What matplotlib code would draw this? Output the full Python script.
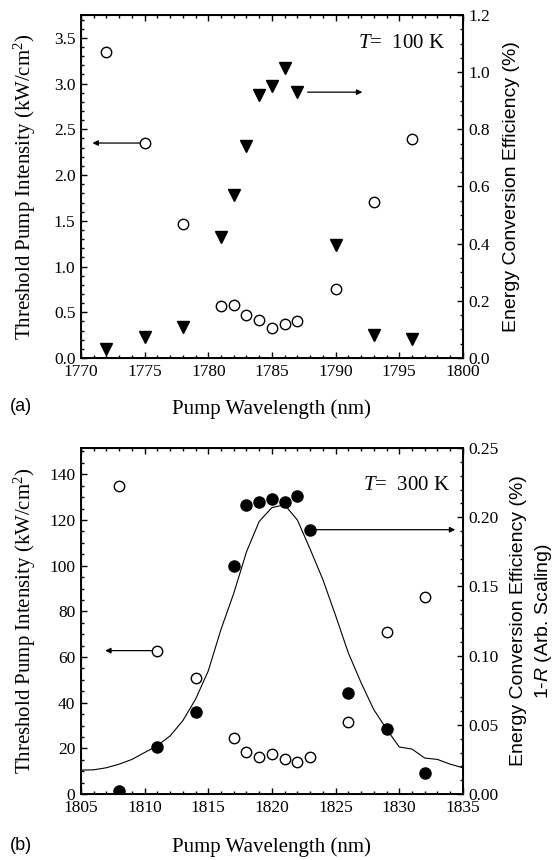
import matplotlib
matplotlib.use('Agg')
import matplotlib.pyplot as plt
from matplotlib.ticker import MultipleLocator

plt.rcParams['font.family'] = ['Liberation Serif', 'DejaVu Serif']
plt.rcParams['mathtext.fontset'] = 'custom'
plt.rcParams['mathtext.rm'] = 'Liberation Serif'
plt.rcParams['mathtext.it'] = 'Liberation Serif:italic'
plt.rcParams['mathtext.sf'] = 'Liberation Sans:italic'

# panel (a), T = 100 K
wl_a = [1772, 1775, 1778, 1781, 1782, 1783, 1784, 1785, 1786, 1787, 1790, 1793, 1796]
thr_a = [3.35, 2.35, 1.46, 0.57, 0.58, 0.47, 0.42, 0.33, 0.37, 0.40, 0.75, 1.71, 2.39]
eff_a = [0.032, 0.074, 0.11, 0.425, 0.57, 0.74, 0.92, 0.95, 1.015, 0.93, 0.395, 0.08, 0.066]

# panel (b), T = 300 K
wl_b = [1808, 1811, 1814, 1817, 1818, 1819, 1820, 1821, 1822, 1823, 1826, 1829, 1832]
thr_b = [134.7, 62.8, 50.7, 24.4, 18.4, 16.4, 17.4, 15.2, 14.2, 16.4, 31.5, 70.8, 86.4]
eff_b = [0.002, 0.034, 0.059, 0.165, 0.209, 0.211, 0.213, 0.211, 0.215, 0.191, 0.073, 0.047, 0.015]

# 1-R curve (arb.), on the right axis scale
wl_r = [1805, 1806, 1807, 1808, 1809, 1810, 1811, 1812, 1813, 1814, 1815, 1816, 1817,
        1818, 1819, 1820, 1821, 1822, 1823, 1824, 1825, 1826, 1827, 1828, 1829, 1830,
        1831, 1832, 1833, 1834, 1835]
r_b = [0.0173, 0.0175, 0.019, 0.0216, 0.025, 0.030, 0.035, 0.042, 0.053, 0.0685, 0.089,
       0.119, 0.145, 0.175, 0.197, 0.207, 0.209, 0.198, 0.177, 0.155, 0.129, 0.102, 0.0805,
       0.061, 0.047, 0.034, 0.0325, 0.026, 0.025, 0.0216, 0.019]

fig = plt.figure(figsize=(5.6, 8.6), dpi=100)

def style(ax, ax2):
    ax.tick_params(which='both', direction='in', top=True, right=False, labelsize=12.5, pad=4)
    ax.tick_params(which='major', length=4.5, width=1)
    ax.tick_params(which='minor', length=2.5, width=1)
    ax2.tick_params(which='both', direction='in', right=True, labelsize=12.5, pad=4)
    ax2.tick_params(which='major', length=4.5, width=1)
    ax2.tick_params(which='minor', length=2.5, width=1)
    for s in ax.spines.values():
        s.set_linewidth(1.4)

def arrow(ax, x0, x1, y):
    ax.annotate('', xy=(x1, y), xytext=(x0, y),
                arrowprops=dict(arrowstyle='-|>', color='k', lw=0.9, mutation_scale=8,
                                shrinkA=0, shrinkB=0))

# ---- (a)
ax = fig.add_axes([0.1446, 0.5837, 0.682, 0.3989])
ax2 = ax.twinx()
ax.plot(wl_a, thr_a, 'o', mfc='white', mec='k', mew=1, ms=7.5)
ax2.plot(wl_a, eff_a, 'v', color='k', ms=9)
ax.set_xlim(1770, 1800)
ax.set_ylim(0, 3.75)
ax2.set_ylim(0, 1.2)
ax.xaxis.set_major_locator(MultipleLocator(5))
ax.xaxis.set_minor_locator(MultipleLocator(1))
ax.yaxis.set_major_locator(MultipleLocator(0.5))
ax.yaxis.set_minor_locator(MultipleLocator(0.1))
ax2.yaxis.set_major_locator(MultipleLocator(0.2))
ax2.yaxis.set_minor_locator(MultipleLocator(0.05))
ax.set_yticks([0, 0.5, 1, 1.5, 2, 2.5, 3, 3.5])
ax.set_yticklabels(['0.0', '0.5', '1.0', '1.5', '2.0', '2.5', '3.0', '3.5'])
style(ax, ax2)
ax.set_xlabel('Pump Wavelength (nm)', fontsize=15)
ax.xaxis.set_label_coords(0.5, -0.12)
ax.set_ylabel('Threshold Pump Intensity (kW/cm$^2$)', fontsize=15)
ax.yaxis.set_label_coords(-0.112, 0.5)
ax2.set_ylabel('Energy Conversion Efficiency (%)', fontsize=14, family='Liberation Sans')
ax2.yaxis.set_label_coords(1.105, 0.5)
ax.text(0.955, 0.918, '$T$=  100 K', transform=ax.transAxes, ha='right', va='center', fontsize=15)
arrow(ax, 1774.6, 1770.9, 2.35)
arrow(ax2, 1787.8, 1792.1, 0.93)
fig.text(0.018, 0.527, '(a)', family='Liberation Sans', fontsize=13, va='center')

# ---- (b)
bx = fig.add_axes([0.1446, 0.0767, 0.682, 0.4023])
bx2 = bx.twinx()
bx2.plot(wl_r, r_b, '-', color='k', lw=0.8)
bx.plot(wl_b, thr_b, 'o', mfc='white', mec='k', mew=1, ms=7.5)
bx2.plot(wl_b, eff_b, 'o', color='k', ms=8)
bx.set_xlim(1805, 1835)
bx.set_ylim(0, 151.5)
bx2.set_ylim(0, 0.25)
bx.xaxis.set_major_locator(MultipleLocator(5))
bx.xaxis.set_minor_locator(MultipleLocator(1))
bx.yaxis.set_major_locator(MultipleLocator(20))
bx.yaxis.set_minor_locator(MultipleLocator(5))
bx2.yaxis.set_major_locator(MultipleLocator(0.05))
bx2.yaxis.set_minor_locator(MultipleLocator(0.01))
bx2.set_yticks([0, 0.05, 0.1, 0.15, 0.2, 0.25])
bx2.set_yticklabels(['0.00', '0.05', '0.10', '0.15', '0.20', '0.25'])
style(bx, bx2)
bx.set_xlabel('Pump Wavelength (nm)', fontsize=15)
bx.xaxis.set_label_coords(0.5, -0.125)
bx.set_ylabel('Threshold Pump Intensity (kW/cm$^2$)', fontsize=15)
bx.yaxis.set_label_coords(-0.112, 0.5)
bx2.set_ylabel('Energy Conversion Efficiency (%)\n1-$\\mathsf{R}$ (Arb. Scaling)', fontsize=14,
               family='Liberation Sans', multialignment='center', linespacing=1.4)
bx2.yaxis.set_label_coords(1.123, 0.5)
bx.text(0.966, 0.893, '$T$=  300 K', transform=bx.transAxes, ha='right', va='center', fontsize=15)
arrow(bx, 1810.6, 1806.9, 62.8)
arrow(bx2, 1823.4, 1834.4, 0.191)
fig.text(0.018, 0.017, '(b)', family='Liberation Sans', fontsize=13, va='center')

fig.savefig('out.png', dpi=100)
